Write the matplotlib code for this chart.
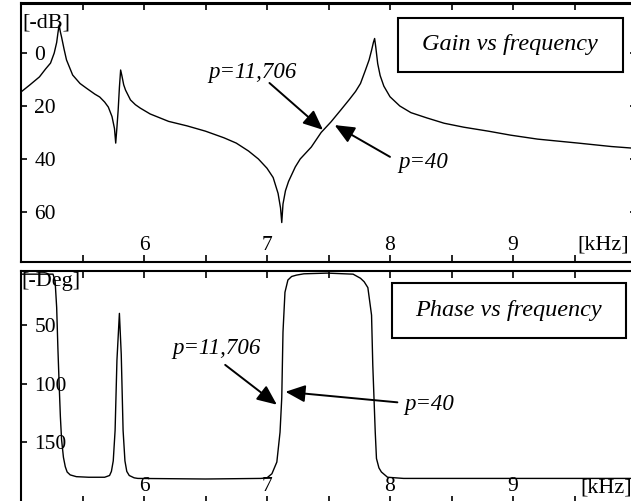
import matplotlib
matplotlib.use("Agg")
import matplotlib.pyplot as plt
from matplotlib.patches import Rectangle

plt.rcParams['font.family'] = ['Liberation Serif', 'DejaVu Serif']

# Ganancia (-dB) frente a frecuencia (kHz)
gain_f = [5.00, 5.07, 5.15, 5.20, 5.24, 5.27, 5.29, 5.30, 5.31, 5.32, 5.33, 5.35,
          5.37, 5.42, 5.48, 5.53, 5.60, 5.64, 5.68, 5.71, 5.74, 5.76, 5.77, 5.78,
          5.79, 5.80, 5.81, 5.82, 5.835, 5.85, 5.89, 5.93, 5.97, 6.05, 6.20, 6.35,
          6.50, 6.65, 6.75, 6.85, 6.93, 7.00, 7.05, 7.09, 7.11, 7.12, 7.13, 7.15,
          7.175, 7.20, 7.23, 7.27, 7.36, 7.44, 7.52, 7.60, 7.67, 7.72, 7.76, 7.80,
          7.83, 7.85, 7.865, 7.875, 7.885, 7.90, 7.92, 7.95, 8.00, 8.08, 8.17, 8.30,
          8.44, 8.60, 8.80, 8.98, 9.20, 9.53, 9.80, 10.0]
gain_db = [14.7, 12.1, 9.0, 6.0, 3.8, 0.0, -4.0, -7.5, -10.6, -8.0, -6.0, -1.5,
           2.6, 8.3, 11.5, 13.2, 15.5, 16.6, 18.5, 20.4, 24.0, 28.5, 34.0, 28.0,
           21.5, 13.0, 6.4, 8.5, 12.0, 14.0, 17.7, 19.5, 20.8, 23.0, 25.8, 27.5,
           29.5, 32.0, 34.0, 37.0, 40.0, 43.5, 47.0, 53.0, 58.5, 64.0, 57.0, 52.0,
           48.5, 46.0, 43.0, 40.0, 35.5, 30.0, 26.0, 21.5, 17.5, 14.5, 11.5, 6.5,
           2.6, -1.0, -4.0, -5.5, -2.0, 4.0, 8.5, 12.5, 16.5, 20.0, 22.5, 24.5,
           26.5, 28.0, 29.5, 31.0, 32.5, 34.0, 35.3, 36.0]

# Fase (-grados) frente a frecuencia
phase_f = [5.00, 5.26, 5.277, 5.29, 5.30, 5.31, 5.32, 5.33, 5.345, 5.36, 5.375, 5.40,
           5.45, 5.55, 5.68, 5.72, 5.735, 5.75, 5.765, 5.78, 5.80, 5.815, 5.83, 5.845,
           5.86, 5.88, 5.92, 5.95, 6.50, 6.95, 7.00, 7.04, 7.08, 7.106, 7.12, 7.13,
           7.146, 7.17, 7.20, 7.24, 7.30, 7.49, 7.70, 7.76, 7.79, 7.82, 7.85, 7.86,
           7.88, 7.89, 7.91, 7.93, 7.98, 8.11, 8.60, 9.00, 9.50, 10.0]
phase_deg = [6.5, 6.5, 12.0, 35.0, 70.0, 100.0, 128.0, 148.0, 163.0, 171.0, 175.5, 178.0,
             179.5, 180.0, 180.0, 178.5, 175.0, 166.0, 140.0, 80.0, 40.0, 75.0, 140.0, 166.0,
             175.0, 178.5, 180.5, 181.0, 181.5, 181.0, 180.5, 177.0, 167.0, 141.5, 112.0, 56.0,
             22.0, 11.5, 8.5, 7.3, 6.2, 5.6, 6.5, 10.0, 13.0, 18.0, 41.5, 84.0,
             141.5, 164.0, 172.0, 175.5, 180.0, 181.0, 181.0, 181.0, 181.0, 181.0]

x_ticks = [5.5, 6.0, 6.5, 7.0, 7.5, 8.0, 8.5, 9.0, 9.5]
x_labels = ['', '6', '', '7', '', '8', '', '9', '']
gain_ticks = [0, 20, 40, 60]
phase_ticks = [50, 100, 150]

fig = plt.figure(figsize=(6.31, 5.01), dpi=100)
ax1 = fig.add_axes([21/631, 1 - 262/501, 615/631, 259/501])
ax2 = fig.add_axes([21/631, 1 - 503/501, 615/631, 232/501])

ax1.plot(gain_f, gain_db, color='black', lw=1.0)
ax2.plot(phase_f, phase_deg, color='black', lw=1.0)

ax1.set_ylim(78.9, -18.9)
ax2.set_ylim(202, 3.8)

for ax, yt in ((ax1, gain_ticks), (ax2, phase_ticks)):
    ax.set_xlim(5.0, 10.0)
    ax.set_xticks(x_ticks)
    ax.set_xticklabels(x_labels)
    ax.set_yticks(yt)
    ax.set_yticklabels([str(v) for v in yt])
    ax.tick_params(axis='x', direction='in', top=True, bottom=True, length=5,
                   width=1.2, pad=-18.5, labelsize=15.5)
    ax.tick_params(axis='y', direction='in', left=True, length=4, width=1.2,
                   pad=-9.5, labelsize=15.5)
    for lbl in ax.get_yticklabels():
        lbl.set_horizontalalignment('left')
    for s in ax.spines.values():
        s.set_linewidth(1.5)

ax1.tick_params(axis='y', right=True)
ax1.spines['top'].set_linewidth(2.2)

# etiquetas de unidades
ax1.text(0.002, 0.923, '[-dB]', transform=ax1.transAxes, ha='left', va='center', fontsize=16)
ax1.text(0.904, 0.066, '[kHz]', transform=ax1.transAxes, ha='left', va='center', fontsize=16)
ax2.text(0.0, 0.953, '[-Deg]', transform=ax2.transAxes, ha='left', va='center', fontsize=16)
ax2.text(0.909, 0.065, '[kHz]', transform=ax2.transAxes, ha='left', va='center', fontsize=16)

# cuadros de título
ax1.add_patch(Rectangle((0.613, 0.734), 0.366, 0.208, transform=ax1.transAxes,
                        fill=True, fc='white', ec='black', lw=1.5, zorder=3))
ax1.text(0.795, 0.838, 'Gain vs frequency', transform=ax1.transAxes, ha='center',
         va='center', fontsize=17.5, style='italic', zorder=4)
ax2.add_patch(Rectangle((0.603, 0.711), 0.381, 0.237, transform=ax2.transAxes,
                        fill=True, fc='white', ec='black', lw=1.5, zorder=3))
ax2.text(0.793, 0.830, 'Phase vs frequency', transform=ax2.transAxes, ha='center',
         va='center', fontsize=17.5, style='italic', zorder=4)

arrow = dict(arrowstyle='-|>,head_length=0.8,head_width=0.35', mutation_scale=15,
             lw=1.4, color='black', shrinkA=0, shrinkB=0)

# flechas de ganancia
ax1.text(6.52, 7.2, 'p=11,706', ha='left', va='center', fontsize=16.5, style='italic')
ax1.annotate('', xy=(7.455, 29.0), xytext=(7.02, 11.3), arrowprops=arrow)
ax1.text(8.07, 41.5, 'p=40', ha='left', va='center', fontsize=16.5, style='italic')
ax1.annotate('', xy=(7.55, 27.2), xytext=(8.0, 39.2), arrowprops=arrow)

# flechas de fase
ax2.text(6.23, 70, 'p=11,706', ha='left', va='center', fontsize=16.5, style='italic')
ax2.annotate('', xy=(7.08, 118), xytext=(6.66, 84), arrowprops=arrow)
ax2.text(8.12, 118, 'p=40', ha='left', va='center', fontsize=16.5, style='italic')
ax2.annotate('', xy=(7.15, 107), xytext=(8.06, 116), arrowprops=arrow)

fig.savefig('out.png', dpi=100)
